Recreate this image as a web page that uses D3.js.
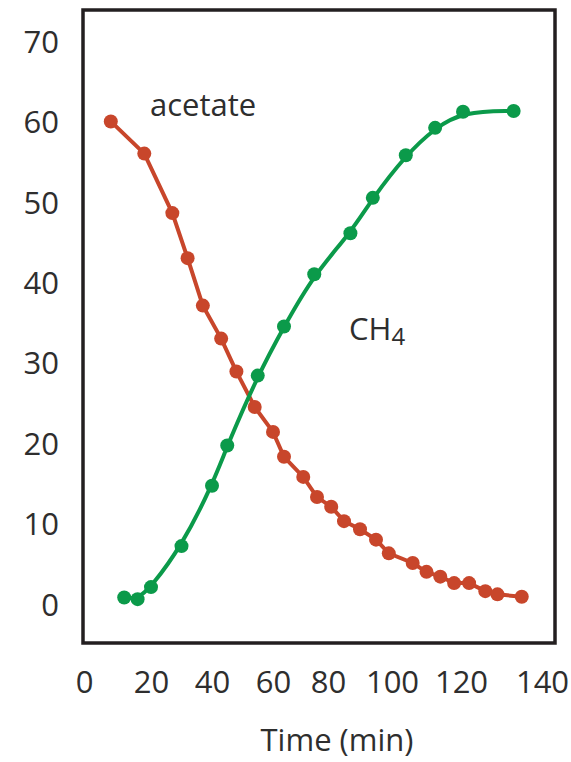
<!DOCTYPE html>
<html>
<head>
<meta charset="utf-8">
<script src="https://cdn.jsdelivr.net/npm/d3@7"></script>
<style>
    body { margin: 0; background: #fff; }
    svg { display: block; }
    text { font-family: "Open Sans", sans-serif; fill: #2e2e2e; }
</style>
</head>
<body>
<div class="chart"></div>
<script>

// tick labels
var xTicks = [0, 20, 40, 60, 80, 100, 120, 140];
var yTicks = [0, 10, 20, 30, 40, 50, 60, 70];

// acetate (red)
var acetateTime = [8, 18, 27, 32, 37, 43, 48, 54, 60, 64, 71, 76, 81, 85, 90, 95, 99, 106, 110, 114, 118, 122, 126, 129, 135];
var acetate = [60, 56, 48.6, 43, 37.1, 33, 28.9, 24.5, 21.4, 18.3, 15.8, 13.3, 12.1, 10.3, 9.3, 8, 6.3, 5.1, 4, 3.4, 2.6, 2.6, 1.6, 1.2, 0.9];

// CH4 (green)
var ch4Time = [12, 16, 20, 30, 40, 45, 55, 64, 75, 87, 94, 104, 112.5, 120.5, 133];
var ch4 = [0.8, 0.6, 2.1, 7.2, 14.7, 19.7, 28.4, 34.5, 41, 46.1, 50.5, 55.8, 59.2, 61.2, 61.3];

// the printed x labels are not evenly spaced, so the x scale follows them
var xTickPos = [84, 151, 212, 273, 328, 392, 461, 542];

var div_width = 571;
var div_height = 762;

var red = "#c8462b";
var green = "#0b9a4a";

drawChart();

function drawChart() {

    var svg = d3.select(".chart").append("svg")
        .attr("width", div_width)
        .attr("height", div_height);

    var x = d3.scaleLinear().domain(xTicks).range(xTickPos);
    var y = d3.scaleLinear().domain([0, 70]).range([604, 41]);

    // frame
    svg.append("rect")
        .attr("x", 83)
        .attr("y", 10)
        .attr("width", 472)
        .attr("height", 633)
        .attr("fill", "none")
        .attr("stroke", "#231f20")
        .attr("stroke-width", 3.5);

    // axes (labels only)
    var gx = svg.append("g")
        .attr("transform", "translate(0,693)")
        .call(d3.axisBottom(x).tickValues(xTicks).tickSize(0).tickPadding(0));
    gx.select(".domain").remove();
    gx.selectAll("text")
        .attr("y", 0)
        .attr("dy", 0)
        .style("font-size", "31px")
        .style("font-family", "'Open Sans', sans-serif")
        .attr("fill", "#2e2e2e");

    var gy = svg.append("g")
        .attr("transform", "translate(59,0)")
        .call(d3.axisLeft(y).tickValues(yTicks).tickSize(0).tickPadding(0));
    gy.select(".domain").remove();
    gy.selectAll("text")
        .attr("x", 0)
        .attr("dy", "0.36em")
        .style("font-size", "31px")
        .style("font-family", "'Open Sans', sans-serif")
        .attr("fill", "#2e2e2e");

    svg.append("text")
        .attr("x", 337)
        .attr("y", 751)
        .attr("text-anchor", "middle")
        .style("font-size", "31px")
        .text("Time (min)");

    // series
    var acetateData = acetateTime.map(function (t, i) { return [t, acetate[i]]; });
    var ch4Data = ch4Time.map(function (t, i) { return [t, ch4[i]]; });

    var lineLinear = d3.line()
        .x(function (d) { return x(d[0]); })
        .y(function (d) { return y(d[1]); });

    var lineSmooth = d3.line()
        .curve(d3.curveBasis)
        .x(function (d) { return x(d[0]); })
        .y(function (d) { return y(d[1]); });

    svg.append("path")
        .datum(acetateData)
        .attr("d", lineLinear)
        .attr("fill", "none")
        .attr("stroke", red)
        .attr("stroke-width", 4);

    svg.selectAll(".dot_acetate")
        .data(acetateData)
        .enter().append("circle")
        .attr("class", "dot_acetate")
        .attr("cx", function (d) { return x(d[0]); })
        .attr("cy", function (d) { return y(d[1]); })
        .attr("r", 7)
        .attr("fill", red);

    svg.append("path")
        .datum(ch4Data)
        .attr("d", lineSmooth)
        .attr("fill", "none")
        .attr("stroke", green)
        .attr("stroke-width", 4);

    svg.selectAll(".dot_ch4")
        .data(ch4Data)
        .enter().append("circle")
        .attr("class", "dot_ch4")
        .attr("cx", function (d) { return x(d[0]); })
        .attr("cy", function (d) { return y(d[1]); })
        .attr("r", 7)
        .attr("fill", green);

    // series labels
    svg.append("text")
        .attr("x", 150)
        .attr("y", 116)
        .style("font-size", "31px")
        .text("acetate");

    var ch = svg.append("text")
        .attr("x", 349)
        .attr("y", 340)
        .style("font-size", "31px");
    ch.append("tspan").text("CH");
    ch.append("tspan")
        .attr("dy", 5)
        .style("font-size", "24px")
        .text("4");
}

</script>
</body>
</html>
